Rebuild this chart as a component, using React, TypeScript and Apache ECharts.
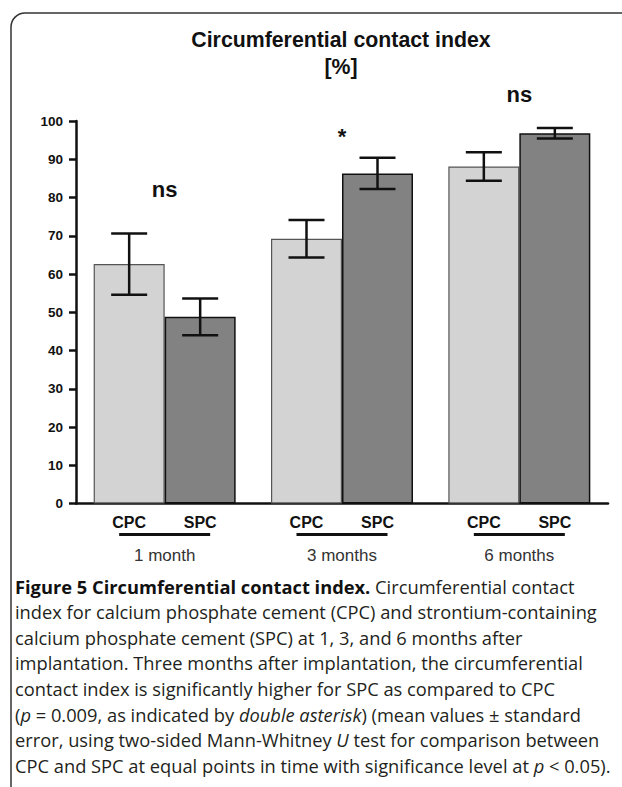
import React, { useEffect, useRef } from "react";
import * as echarts from "echarts";

const categories = ["1 month", "3 months", "6 months"];
const groupNames = ["CPC", "SPC"];
const cpcMean = [62.6, 69.2, 88.1];
const cpcErr = [8.0, 4.9, 3.7];
const spcMean = [48.8, 86.3, 96.8];
const spcErr = [4.8, 4.1, 1.4];
const sigLabels = ["ns", "*", "ns"];
const sigLevel = [82.0, 96.0, 106.8];
const yMin = 0;
const yMax = 100;
const yInterval = 10;

const titleLines = ["Circumferential contact index", "[%]"];
const captionLines = [
  "{b|Figure 5 Circumferential contact index.} Circumferential contact",
  "index for calcium phosphate cement (CPC) and strontium-containing",
  "calcium phosphate cement (SPC) at 1, 3, and 6 months after",
  "implantation. Three months after implantation, the circumferential",
  "contact index is significantly higher for SPC as compared to CPC",
  "({i|p} = 0.009, as indicated by {i|double asterisk}) (mean values \u00b1 standard",
  "error, using two-sided Mann-Whitney {i|U} test for comparison between",
  "CPC and SPC at equal points in time with significance level at {i|p} < 0.05).",
];

const FONT = '"Liberation Sans", Arial, sans-serif';
const CAP_FONT = '"Open Sans", "Noto Sans", sans-serif';
const CAP_SIZE = 18.3;
const BAR_W = 71;
const CAP_W = 36;
const UL_W = 91;
const UL_OFFSET = 31;

function errRender(side: number) {
  return (params: any, api: any) => {
    const lo = api.coord([api.value(0), api.value(1)]);
    const hi = api.coord([api.value(0), api.value(2)]);
    const x = lo[0] + (side * BAR_W) / 2;
    const st = { stroke: "#111", lineWidth: 2.5 };
    return {
      type: "group",
      children: [
        { type: "line", shape: { x1: x, y1: lo[1], x2: x, y2: hi[1] }, style: st },
        { type: "line", shape: { x1: x - CAP_W / 2, y1: hi[1], x2: x + CAP_W / 2, y2: hi[1] }, style: st },
        { type: "line", shape: { x1: x - CAP_W / 2, y1: lo[1], x2: x + CAP_W / 2, y2: lo[1] }, style: st },
      ],
    };
  };
}

export default function App() {
  const ref = useRef<HTMLDivElement>(null);
  useEffect(() => {
    if (!ref.current) return;
    const chart = echarts.init(ref.current, null, { renderer: "svg" });
    const frame = { stroke: "#333", lineWidth: 1.5, fill: "none" };
    const graphics: any[] = [
      { type: "line", shape: { x1: 11, y1: 27, x2: 11, y2: 800 }, style: frame },
      { type: "line", shape: { x1: 25, y1: 13, x2: 640, y2: 13 }, style: frame },
      {
        type: "arc",
        shape: { cx: 25, cy: 27, r: 14, startAngle: Math.PI, endAngle: Math.PI * 1.5 },
        style: frame,
      },
      {
        type: "text",
        x: 341,
        y: 40,
        style: {
          text: titleLines[0],
          fontFamily: FONT,
          fontWeight: "bold",
          fontSize: 21.3,
          fill: "#111",
          textAlign: "center",
          textVerticalAlign: "middle",
        },
      },
      {
        type: "text",
        x: 341,
        y: 67,
        style: {
          text: titleLines[1],
          fontFamily: FONT,
          fontWeight: "bold",
          fontSize: 21.3,
          fill: "#111",
          textAlign: "center",
          textVerticalAlign: "middle",
        },
      },
    ];
    captionLines.forEach((line, k) => {
      graphics.push({
        type: "text",
        x: 15,
        y: 586 + k * 25.6,
        style: {
          text: line,
          fontFamily: CAP_FONT,
          fontSize: CAP_SIZE,
          fill: "#231f20",
          textAlign: "left",
          textVerticalAlign: "middle",
          rich: {
            b: { fontFamily: CAP_FONT, fontSize: CAP_SIZE, fontWeight: "bold", fill: "#111" },
            i: { fontFamily: CAP_FONT, fontSize: CAP_SIZE, fontStyle: "italic", fill: "#231f20" },
          },
        },
      });
    });

    chart.setOption({
      animation: false,
      backgroundColor: "#fff",
      grid: { left: 76, right: 14, top: 121, bottom: 283.5, containLabel: false },
      xAxis: {
        type: "category",
        data: categories,
        axisLine: { lineStyle: { color: "#111", width: 2.5 } },
        axisTick: { show: false },
        axisLabel: {
          interval: 0,
          margin: 8,
          formatter: (v: string) => `{s|${groupNames[0]}}{s|${groupNames[1]}}\n{m|${v}}`,
          rich: {
            s: {
              fontFamily: FONT,
              fontWeight: "bold",
              fontSize: 16,
              color: "#111",
              width: BAR_W,
              align: "center",
              lineHeight: 22,
            },
            m: { fontFamily: FONT, fontSize: 17, color: "#333", lineHeight: 43 },
          },
        },
      },
      yAxis: {
        type: "value",
        min: yMin,
        max: yMax,
        interval: yInterval,
        splitLine: { show: false },
        axisLine: { show: true, lineStyle: { color: "#111", width: 2.5 } },
        axisTick: { show: true, length: 7, lineStyle: { color: "#111", width: 2.5 } },
        axisLabel: {
          margin: 13,
          fontFamily: FONT,
          fontWeight: "bold",
          fontSize: 13.5,
          color: "#111",
        },
      },
      series: [
        {
          name: groupNames[0],
          type: "bar",
          data: cpcMean,
          barWidth: BAR_W,
          barGap: "0%",
          itemStyle: { color: "#d3d3d3", borderColor: "#555", borderWidth: 1.2 },
          z: 2,
        },
        {
          name: groupNames[1],
          type: "bar",
          data: spcMean,
          barWidth: BAR_W,
          barGap: "0%",
          itemStyle: { color: "#828282", borderColor: "#111", borderWidth: 1.5 },
          z: 2,
        },
        {
          type: "custom",
          name: "CPC error",
          data: cpcMean.map((m, i) => [i, m - cpcErr[i], m + cpcErr[i]]),
          encode: { x: 0, y: [1, 2] },
          renderItem: errRender(-1),
          z: 5,
        },
        {
          type: "custom",
          name: "SPC error",
          data: spcMean.map((m, i) => [i, m - spcErr[i], m + spcErr[i]]),
          encode: { x: 0, y: [1, 2] },
          renderItem: errRender(1),
          z: 5,
        },
        {
          type: "custom",
          name: "group underline",
          data: categories.map((c, i) => [i, yMin]),
          encode: { x: 0, y: 1 },
          renderItem: (params: any, api: any) => {
            const p = api.coord([api.value(0), api.value(1)]);
            const y = p[1] + UL_OFFSET;
            return {
              type: "line",
              shape: { x1: p[0] - UL_W / 2, y1: y, x2: p[0] + UL_W / 2, y2: y },
              style: { stroke: "#111", lineWidth: 3 },
            };
          },
          z: 6,
        },
        {
          type: "custom",
          name: "significance",
          data: sigLevel.map((v, i) => [i, v]),
          encode: { x: 0, y: 1 },
          renderItem: (params: any, api: any) => {
            const p = api.coord([api.value(0), api.value(1)]);
            return {
              type: "text",
              x: p[0],
              y: p[1],
              style: {
                text: sigLabels[params.dataIndex],
                fontFamily: FONT,
                fontWeight: "bold",
                fontSize: 22,
                fill: "#111",
                textAlign: "center",
                textVerticalAlign: "middle",
              },
            };
          },
          z: 6,
        },
      ],
      graphic: graphics,
    });
    return () => chart.dispose();
  }, []);
  return (
    <div
      ref={ref}
      style={{ position: "absolute", left: 0, top: 0, width: 622, height: 787, background: "#fff" }}
    />
  );
}
